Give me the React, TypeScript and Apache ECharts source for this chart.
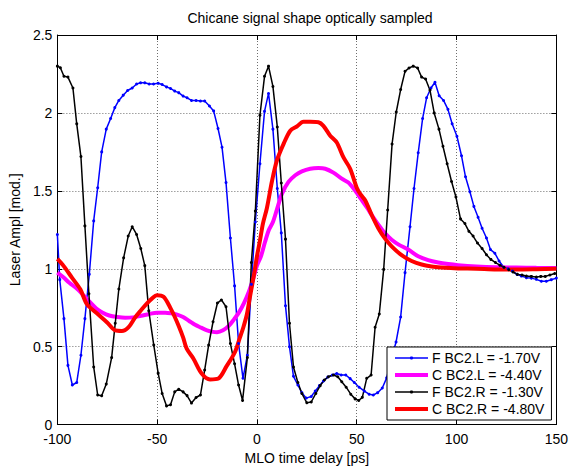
import React, { useEffect, useRef } from "react";
import * as echarts from "echarts";

const xTicks = { min: -100, max: 150, interval: 50 };
const yTicks = { min: 0, max: 2.5, interval: 0.5 };

const seriesNames = [
  "F BC2.L = -1.70V",
  "C BC2.L = -4.40V",
  "F BC2.R = -1.30V",
  "C BC2.R = -4.80V",
];

const fBC2L: [number, number][] = [
  [-100, 1.22], [-98.8, 0.93], [-96.7, 0.68], [-94.7, 0.38], [-92.5, 0.254], [-90.3, 0.27], [-88.2, 0.445],
  [-86.2, 0.68], [-84, 0.964], [-81.8, 1.307], [-79.8, 1.52], [-77.8, 1.75], [-75.5, 1.896], [-73.3, 1.964],
  [-71.2, 2.034], [-69.2, 2.08], [-67, 2.114], [-64.8, 2.144], [-62.5, 2.16], [-60.3, 2.186], [-58.3, 2.193],
  [-56.2, 2.193], [-54, 2.186], [-51.8, 2.186], [-49.5, 2.19], [-47.5, 2.182], [-45.3, 2.167], [-43.3, 2.157],
  [-41.2, 2.14], [-39.2, 2.13], [-37, 2.108], [-35, 2.097], [-32.8, 2.08], [-30.5, 2.08], [-28.3, 2.076],
  [-26.2, 2.076], [-23.8, 2.044], [-21.7, 2.013], [-19.5, 1.9], [-17.5, 1.78], [-15.5, 1.553], [-13.3, 1.197],
  [-11.2, 0.89], [-9.2, 0.52], [-7, 0.297], [-4.8, 0.445], [-2.8, 0.9], [-0.8, 1.3], [1.5, 1.674], [3.8, 2.01],
  [5.8, 2.125], [8, 1.896], [10.2, 1.515], [12.2, 1.23], [14.3, 0.763], [16.3, 0.5], [18.3, 0.31], [20.5, 0.254],
  [22.5, 0.205], [24.7, 0.17], [27.2, 0.18], [29.2, 0.215], [31.3, 0.25], [33.3, 0.28], [35.5, 0.305],
  [37.8, 0.318], [40, 0.328], [42.2, 0.318], [44.5, 0.318], [46.7, 0.295], [48.8, 0.27], [51.2, 0.24],
  [53.8, 0.215], [56.2, 0.195], [58.3, 0.19], [60.5, 0.205], [62.8, 0.235], [65, 0.3], [67.3, 0.42],
  [69.7, 0.53], [72, 0.69], [74.2, 0.975], [76.7, 1.27], [78.7, 1.515], [80.8, 1.744], [83, 1.964], [85, 2.097],
  [87.2, 2.16], [89.2, 2.197], [91.3, 2.11], [93.5, 2.08], [95.7, 2.023], [97.8, 1.93], [100.2, 1.85],
  [102.5, 1.725], [104.5, 1.59], [106.7, 1.494], [108.7, 1.4], [110.8, 1.33], [112.8, 1.26], [115, 1.197],
  [117, 1.123], [119.2, 1.1], [121.3, 1.05], [123.7, 1.01], [125.8, 1.0], [128, 0.985], [130.3, 0.964],
  [132.5, 0.953], [135, 0.943], [137.5, 0.94], [140, 0.932], [142.5, 0.92], [145, 0.92], [147.5, 0.93], [150, 0.94],
];

const cBC2L: [number, number][] = [
  [-100, 0.975], [-97, 0.945], [-94, 0.91], [-90, 0.87], [-87, 0.83], [-84, 0.79], [-80.5, 0.745], [-77.5, 0.72],
  [-74, 0.7], [-70, 0.69], [-66, 0.685], [-62, 0.688], [-58, 0.698], [-54, 0.71], [-50, 0.718], [-46, 0.718],
  [-43, 0.714], [-40, 0.706], [-37, 0.69], [-34, 0.665], [-31, 0.64], [-28, 0.622], [-25, 0.605], [-22, 0.595],
  [-20, 0.593], [-17, 0.605], [-14, 0.635], [-11.5, 0.675], [-9, 0.72], [-6.5, 0.78], [-4, 0.855], [-2, 0.93],
  [0, 1.02], [2, 1.08], [4, 1.17], [6, 1.25], [8, 1.3], [10, 1.38], [12.5, 1.48], [15.8, 1.557], [19.2, 1.6],
  [22.5, 1.625], [26.7, 1.642], [30.8, 1.646], [34.2, 1.642], [38.3, 1.617], [42.5, 1.578], [45.8, 1.553],
  [49, 1.505], [52, 1.45], [55, 1.395], [58, 1.335], [61, 1.28], [64, 1.23], [67.5, 1.186], [71, 1.155],
  [75.8, 1.123], [80.8, 1.08], [85.8, 1.055], [90.8, 1.04], [95.8, 1.03], [100.8, 1.023], [110, 1.015],
  [120, 1.01], [130, 1.008], [140, 1.006], [150, 1.005],
];

const fBC2R: [number, number][] = [
  [-100, 2.3], [-98.5, 2.29], [-96.7, 2.235], [-94.7, 2.23], [-92.2, 2.16], [-90.3, 1.93], [-88.2, 1.72],
  [-86.2, 1.275], [-84.2, 0.84], [-81.8, 0.37], [-79.8, 0.19], [-77.8, 0.185], [-75.5, 0.26], [-72.8, 0.43],
  [-71, 0.65], [-69.2, 0.87], [-66.8, 1.07], [-64.5, 1.21], [-62.5, 1.27], [-60.3, 1.22], [-58.2, 1.13],
  [-56.2, 1.02], [-54.2, 0.73], [-51.7, 0.51], [-49.5, 0.33], [-47.5, 0.2], [-45.3, 0.12], [-43.3, 0.127],
  [-41.2, 0.21], [-39.2, 0.227], [-37, 0.21], [-35, 0.186], [-32.8, 0.138], [-30.5, 0.174], [-28.3, 0.19],
  [-26.2, 0.35], [-24.2, 0.51], [-22, 0.66], [-19.8, 0.78], [-17.8, 0.8], [-15.5, 0.756], [-13.3, 0.52],
  [-11.2, 0.39], [-9.2, 0.254], [-7.2, 0.155], [-4.8, 0.43], [-2.8, 1.04], [-0.8, 1.37], [1.5, 1.985],
  [3.8, 2.235], [5.8, 2.3], [8, 2.17], [10.2, 1.91], [12.2, 1.55], [14.3, 1.19], [16.3, 0.65], [18.3, 0.37],
  [20.5, 0.27], [22.5, 0.2], [25, 0.14], [27.2, 0.145], [29.5, 0.2], [31.7, 0.25], [33.8, 0.286], [35.8, 0.307],
  [38.3, 0.318], [40.5, 0.307], [42.5, 0.275], [44.7, 0.24], [47, 0.195], [49.2, 0.165], [51, 0.155],
  [52.8, 0.175], [55, 0.297], [57.2, 0.318], [59.2, 0.625], [61.3, 0.71], [63.5, 0.996], [65.5, 1.377],
  [67.7, 1.8], [69.8, 2.006], [72, 2.15], [74.2, 2.267], [76.2, 2.288], [78.3, 2.3], [80.5, 2.288], [82.5, 2.23],
  [84.5, 2.218], [86.7, 2.146], [88.8, 2.0], [91.2, 1.896], [93.2, 1.786], [95.3, 1.674], [97.5, 1.56],
  [99.7, 1.46], [102, 1.32], [104.2, 1.29], [106.2, 1.24], [108.3, 1.21], [110.5, 1.165], [112.8, 1.13],
  [115, 1.09], [117.2, 1.06], [119.5, 1.04], [121.7, 1.023], [123.8, 1.01], [126.2, 0.994], [128.3, 0.979],
  [130.5, 0.964], [132.8, 0.96], [135, 0.953], [137.5, 0.951], [140, 0.947], [142.2, 0.951], [144.5, 0.951],
  [146.8, 0.96], [149.2, 0.97],
];

const cBC2R: [number, number][] = [
  [-100, 1.063], [-96.8, 1.017], [-92.7, 0.943], [-88.5, 0.868], [-85.2, 0.773], [-80.2, 0.714], [-75.2, 0.657],
  [-71, 0.604], [-67.7, 0.6], [-64.3, 0.625], [-61, 0.688], [-58, 0.735], [-55.2, 0.777], [-52.5, 0.81],
  [-50.2, 0.83], [-46.8, 0.82], [-43.5, 0.752], [-41.5, 0.7], [-39.3, 0.636], [-37, 0.56], [-35.2, 0.487],
  [-31.8, 0.423], [-27.7, 0.328], [-23.5, 0.29], [-19.3, 0.296], [-15.2, 0.375], [-11, 0.466], [-8.5, 0.56],
  [-6.8, 0.625], [-5, 0.71], [-3.5, 0.82], [-1.5, 0.96], [0, 1.08], [1.5, 1.18], [3, 1.29], [5, 1.39],
  [7.5, 1.56], [10, 1.695], [13.3, 1.8], [16.7, 1.886], [20, 1.913], [23.3, 1.943], [26.7, 1.943], [30.8, 1.94],
  [33.3, 1.917], [36.7, 1.854], [40, 1.81], [43.3, 1.716], [46.7, 1.642], [50, 1.52], [52, 1.475], [54.2, 1.44],
  [57.5, 1.345], [60.8, 1.26], [64.2, 1.193], [67.5, 1.144], [72.5, 1.087], [77.5, 1.05], [82.5, 1.027],
  [87.5, 1.015], [94.2, 1.006], [100.8, 1.002], [110, 1.0], [120, 0.995], [130, 0.995], [140, 0.997], [150, 1.0],
];

const FONT = "'Liberation Sans', Arial, Helvetica, sans-serif";

export default function App() {
  const ref = useRef<HTMLDivElement>(null);
  useEffect(() => {
    if (!ref.current) return;
    const chart = echarts.init(ref.current, undefined, { renderer: "svg" });
    const axisCommon = {
      axisLine: { show: true, onZero: false, lineStyle: { color: "#000", width: 1 } },
      axisTick: { show: true, inside: true, length: 5, lineStyle: { color: "#000" } },
    };
    const gridLine = { show: true, lineStyle: { color: "#6e6e6e", type: [1, 2], width: 1 } };
    chart.setOption({
      animation: false,
      backgroundColor: "#fff",
      textStyle: { fontFamily: FONT },
      title: {
        text: "Chicane signal shape optically sampled",
        left: 305,
        top: 6,
        textAlign: "center",
        textStyle: { fontSize: 14, fontWeight: "normal", color: "#000", fontFamily: FONT },
      },
      grid: { left: 57, right: 14, top: 35, bottom: 41, containLabel: false },
      legend: {
        orient: "vertical",
        left: 387,
        top: 347,
        itemWidth: 33,
        itemHeight: 4,
        itemGap: 3,
        padding: [4, 7, 4, 6],
        borderColor: "#000",
        borderWidth: 1,
        borderRadius: 0,
        backgroundColor: "#fff",
        lineStyle: { width: "inherit" },
        textStyle: { fontSize: 14, color: "#000", fontFamily: FONT, padding: [0, 0, 0, -1] },
        data: seriesNames,
      },
      xAxis: [
        {
          type: "value",
          min: xTicks.min,
          max: xTicks.max,
          interval: xTicks.interval,
          position: "bottom",
          name: "MLO time delay [ps]",
          nameLocation: "middle",
          nameGap: 23,
          nameTextStyle: { fontSize: 14, color: "#000", fontFamily: FONT },
          ...axisCommon,
          axisLabel: { color: "#000", fontSize: 14, lineHeight: 13, margin: 8, fontFamily: FONT },
          splitLine: gridLine,
        },
        {
          type: "value",
          min: xTicks.min,
          max: xTicks.max,
          interval: xTicks.interval,
          position: "top",
          ...axisCommon,
          axisLabel: { show: false },
          splitLine: { show: false },
        },
      ],
      yAxis: [
        {
          type: "value",
          min: yTicks.min,
          max: yTicks.max,
          interval: yTicks.interval,
          position: "left",
          name: "Laser Ampl [mod.]",
          nameLocation: "middle",
          nameGap: 30,
          nameTextStyle: { fontSize: 14, color: "#000", fontFamily: FONT },
          ...axisCommon,
          axisLabel: { color: "#000", fontSize: 14, lineHeight: 12, margin: 5, fontFamily: FONT },
          splitLine: gridLine,
        },
        {
          type: "value",
          min: yTicks.min,
          max: yTicks.max,
          interval: yTicks.interval,
          position: "right",
          ...axisCommon,
          axisLabel: { show: false },
          splitLine: { show: false },
        },
      ],
      series: [
        {
          name: seriesNames[0],
          type: "line",
          data: fBC2L,
          color: "#0000ff",
          lineStyle: { color: "#0000ff", width: 1.5 },
          itemStyle: { color: "#0000ff" },
          symbol: "circle",
          symbolSize: 3,
          showSymbol: true,
        },
        {
          name: seriesNames[1],
          type: "line",
          data: cBC2L,
          color: "#ff00ff",
          lineStyle: { color: "#ff00ff", width: 4 },
          itemStyle: { color: "#ff00ff" },
          symbol: "none",
          smooth: 0.3,
        },
        {
          name: seriesNames[2],
          type: "line",
          data: fBC2R,
          color: "#000000",
          lineStyle: { color: "#000000", width: 1.5 },
          itemStyle: { color: "#000000" },
          symbol: "circle",
          symbolSize: 3,
          showSymbol: true,
        },
        {
          name: seriesNames[3],
          type: "line",
          data: cBC2R,
          color: "#ff0000",
          lineStyle: { color: "#ff0000", width: 4 },
          itemStyle: { color: "#ff0000" },
          symbol: "none",
          smooth: 0.3,
        },
      ],
    });
    return () => chart.dispose();
  }, []);
  return (
    <div
      ref={ref}
      style={{ position: "absolute", left: 0, top: 0, width: 571, height: 470 }}
    />
  );
}
